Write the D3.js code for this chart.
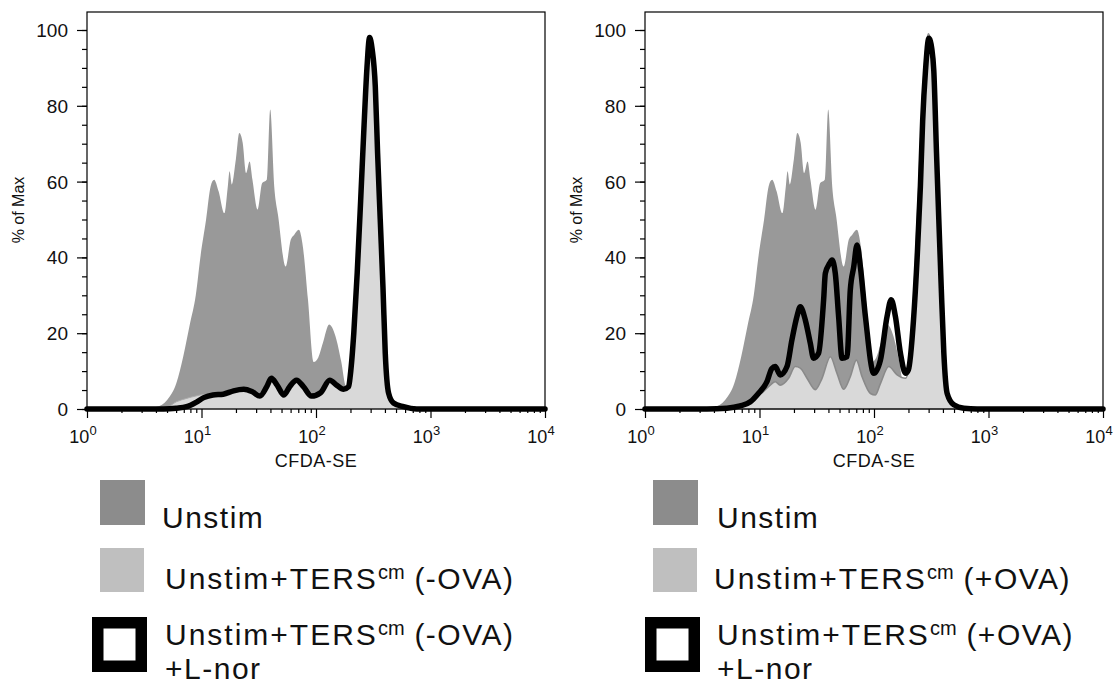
<!DOCTYPE html>
<html>
<head>
<meta charset="utf-8">
<script src="https://cdn.jsdelivr.net/npm/d3@7/dist/d3.min.js"></script>
<style>
  body { margin: 0; background: #fff; }
  svg { display: block; font-family: "Liberation Sans", Arial, sans-serif; }
</style>
</head>
<body>
<svg id="chart" width="1120" height="686"></svg>
<script>
// log10(CFDA-SE) positions and % of Max
const unstimExp = [0, 0.48, 0.55, 0.61, 0.7, 0.78, 0.84, 0.9, 0.95, 0.99, 1.04, 1.08, 1.11, 1.15, 1.2, 1.23, 1.245, 1.265, 1.3, 1.33, 1.36, 1.39, 1.42, 1.445, 1.49, 1.53, 1.57, 1.6, 1.635, 1.67, 1.735, 1.78, 1.81, 1.85, 1.885, 1.93, 1.98, 2.02, 2.06, 2.115, 2.17, 2.22, 2.26, 2.35, 2.5, 2.65, 2.75, 4]
const unstimPct = [0, 0, 0.3, 0.6, 2.4, 6.8, 13.8, 22.6, 30, 40, 50, 58.8, 60.5, 57.4, 51.7, 58.8, 62.7, 59.2, 65.8, 72.8, 70.2, 62.3, 65.3, 60.5, 52.6, 59.6, 60.5, 79, 58.8, 50.8, 37.6, 44.7, 46, 47.3, 42.9, 28.8, 12.4, 13.6, 17.4, 22.3, 19.2, 12.6, 6.0, 4, 2.5, 0.5, 0, 0]

const tersMinusExp = [0, 0.5, 0.7, 0.78, 0.87, 0.96, 1.02, 1.1, 1.19, 1.28, 1.37, 1.44, 1.51, 1.57, 1.61, 1.66, 1.72, 1.77, 1.83, 1.89, 1.96, 2.04, 2.12, 2.18, 2.24, 2.285, 2.3, 2.33, 2.36, 2.39, 2.42, 2.445, 2.468, 2.49, 2.518, 2.538, 2.561, 2.585, 2.605, 2.634, 2.677, 2.765, 2.88, 4]
const tersMinusPct = [0, 0, 0.5, 1.9, 2.8, 3.5, 3.8, 3.6, 3.8, 4.6, 5.0, 4.4, 3.2, 5.7, 7.9, 6.1, 3.5, 5.7, 7.4, 5.7, 3.2, 4.1, 7.4, 6.1, 5.0, 5.7, 9, 20, 36, 55, 75, 90, 97, 94, 84, 67, 49.5, 31.5, 14.5, 4, 1.4, 0.5, 0, 0]

const lnorMinusExp = [0, 0.67, 0.78, 0.87, 0.96, 1.02, 1.1, 1.19, 1.28, 1.37, 1.44, 1.51, 1.57, 1.61, 1.66, 1.72, 1.77, 1.83, 1.89, 1.96, 2.04, 2.12, 2.18, 2.24, 2.285, 2.3, 2.33, 2.36, 2.39, 2.42, 2.445, 2.468, 2.49, 2.518, 2.538, 2.561, 2.585, 2.605, 2.634, 2.677, 2.765, 2.88, 4]
const lnorMinusPct = [0, 0, 0.2, 0.6, 1.9, 3.0, 3.7, 3.9, 4.8, 5.2, 4.6, 3.4, 5.9, 8.1, 6.3, 3.7, 5.9, 7.6, 5.9, 3.4, 4.3, 7.6, 6.3, 5.2, 5.9, 9, 20, 36, 55, 75, 90, 98, 95, 85, 67.5, 50, 32, 14.7, 4.2, 1.6, 0.6, 0, 0]

const tersPlusExp = [0, 0.6, 0.685, 0.83, 0.95, 1.035, 1.094, 1.137, 1.181, 1.254, 1.312, 1.356, 1.415, 1.487, 1.546, 1.619, 1.677, 1.735, 1.793, 1.846, 1.896, 1.969, 2.012, 2.056, 2.129, 2.202, 2.275, 2.32, 2.36, 2.39, 2.42, 2.45, 2.475, 2.5, 2.525, 2.548, 2.568, 2.59, 2.612, 2.64, 2.7, 2.79, 2.9, 4]
const tersPlusPct = [0, 0, 0.2, 1.1, 2.8, 4.6, 6.3, 7.2, 6.3, 8.1, 11.2, 10.8, 8.1, 5.1, 8.1, 13.8, 9.4, 5.2, 8.5, 12.9, 8.5, 4.1, 3.7, 6.7, 11.2, 9.0, 8.1, 14, 38, 58, 80, 94, 99, 96, 87, 68, 50, 31, 13, 3.5, 1, 0.2, 0, 0]

const lnorPlusExp = [0, 0.54, 0.715, 0.83, 0.92, 0.99, 1.065, 1.108, 1.137, 1.181, 1.24, 1.283, 1.327, 1.356, 1.4, 1.444, 1.472, 1.516, 1.56, 1.575, 1.612, 1.633, 1.662, 1.691, 1.721, 1.765, 1.793, 1.823, 1.852, 1.881, 1.925, 1.998, 2.056, 2.114, 2.15, 2.187, 2.231, 2.275, 2.3, 2.345, 2.377, 2.405, 2.425, 2.45, 2.479, 2.505, 2.522, 2.546, 2.566, 2.587, 2.61, 2.639, 2.697, 2.785, 2.9, 4]
const lnorPlusPct = [0, 0, 0.2, 0.8, 1.9, 4.1, 7.2, 10.7, 11.2, 9.0, 11.2, 18.2, 24.4, 27, 23.5, 17.3, 13.4, 14.7, 28.8, 35.8, 38.4, 39.3, 35.8, 24.4, 13.4, 13.8, 31.4, 37.5, 43.3, 37.5, 24.4, 9.4, 12.9, 24.4, 28.8, 24.4, 14.7, 9.4, 10.3, 23.5, 40, 58.6, 76, 89.4, 97.8, 95, 89.4, 67.5, 50, 32.3, 14.7, 4.1, 1.1, 0.2, 0, 0]

const decadeTicks = [1, 10, 100, 1000, 10000]
const yTicks = [0, 20, 40, 60, 80, 100]
const legendLeft = ["Unstim", "(-OVA)", "(-OVA)"]
const legendRight = ["Unstim", "(+OVA)", "(+OVA)"]

const svg = d3.select("#chart")
const zip = (ex, pct) => ex.map((e, i) => ({ v: Math.pow(10, e), p: pct[i] }))

function drawPanel(x0, x1, light, line, lightStroke, lightStrokeW) {
  const x = d3.scaleLog().domain([1, 1e4]).range([x0, x1])
  const y = d3.scaleLinear().domain([0, 100]).range([409, 30])
  const g = svg.append("g")

  const area = d3.area().curve(d3.curveMonotoneX)
    .x(d => x(d.v)).y0(y(0)).y1(d => y(d.p))
  const path = d3.line().curve(d3.curveMonotoneX)
    .x(d => x(d.v)).y(d => y(d.p))

  g.append("path").attr("d", area(zip(unstimExp, unstimPct))).attr("fill", "#999999")
  g.append("path").attr("d", area(light)).attr("fill", "#d9d9d9")
    .attr("stroke", lightStroke).attr("stroke-width", lightStrokeW)

  g.append("rect").attr("x", x0).attr("y", 12).attr("width", x1 - x0).attr("height", 409 - 12)
    .attr("fill", "none").attr("stroke", "#000").attr("stroke-width", 1.2)

  g.append("path").attr("d", path(line)).attr("fill", "none").attr("stroke", "#000")
    .attr("stroke-width", 5.5).attr("stroke-linejoin", "round").attr("stroke-linecap", "round")

  // ticks
  const minorX = []
  decadeTicks.slice(0, 4).forEach(d => { for (let k = 2; k < 10; k++) minorX.push(d * k) })
  const clean = s => s.select(".domain").remove()
  g.append("g").attr("transform", "translate(0,409)")
    .call(d3.axisBottom(x).tickValues(minorX).tickSize(4).tickFormat("")).call(clean)
  g.append("g").attr("transform", "translate(0,409)")
    .call(d3.axisBottom(x).tickValues(decadeTicks).tickSize(9).tickFormat("")).call(clean)
  g.append("g").attr("transform", `translate(${x0},0)`)
    .call(d3.axisLeft(y).tickValues(d3.range(0, 101, 5)).tickSize(5).tickFormat("")).call(clean)
  g.append("g").attr("transform", `translate(${x0},0)`)
    .call(d3.axisLeft(y).tickValues(yTicks).tickSize(10).tickFormat("")).call(clean)
  g.selectAll(".tick line").attr("stroke", "#000").attr("stroke-width", 1.2)

  g.selectAll(".ylab").data(yTicks).join("text")
    .attr("x", x0 - 19).attr("y", d => y(d) + 7)
    .attr("text-anchor", "end").attr("font-size", 19).attr("fill", "#111")
    .text(d => d)

  decadeTicks.forEach((d, i) => {
    const t = g.append("text").attr("x", x(d) - 4).attr("y", 443)
      .attr("text-anchor", "middle").attr("font-size", 18).attr("fill", "#111")
    t.append("tspan").text("10")
    t.append("tspan").attr("font-size", 13).attr("dy", -8).text(i)
  })

  g.append("text").attr("x", (x0 + x1) / 2).attr("y", 467).attr("text-anchor", "middle")
    .attr("font-size", 18).attr("letter-spacing", 0.5).attr("fill", "#111").text("CFDA-SE")

  g.append("text").attr("transform", `translate(${x0 - 63},210) rotate(-90)`)
    .attr("text-anchor", "middle").attr("font-size", 16).attr("fill", "#111").text("% of Max")
}

drawPanel(87, 545, zip(tersMinusExp, tersMinusPct), zip(lnorMinusExp, lnorMinusPct), "#ababab", 1)
drawPanel(645, 1103, zip(tersPlusExp, tersPlusPct), zip(lnorPlusExp, lnorPlusPct), "#8a8a8a", 1.6)

function drawLegend(sq, tx, labels) {
  const g = svg.append("g").attr("font-size", 30).attr("letter-spacing", 2).attr("fill", "#111")
  g.append("rect").attr("x", sq).attr("y", 480).attr("width", 45).attr("height", 45).attr("fill", "#8c8c8c")
  g.append("rect").attr("x", sq).attr("y", 548).attr("width", 44).attr("height", 44).attr("fill", "#bfbfbf")
  g.append("rect").attr("x", sq - 2.25).attr("y", 622.75).attr("width", 43.5).attr("height", 43.5)
    .attr("fill", "#fff").attr("stroke", "#000").attr("stroke-width", 11.5)

  g.append("text").attr("x", tx[0]).attr("y", 528).attr("letter-spacing", 1.5).text(labels[0])
  ;[[tx[1], 589, labels[1]], [tx[2], 645, labels[2]]].forEach(([xx, yy, tag]) => {
    const t = g.append("text").attr("x", xx).attr("y", yy)
    t.append("tspan").text("Unstim+TERS")
    t.append("tspan").attr("font-size", 20).attr("dy", -10).attr("letter-spacing", 0).text("cm")
    t.append("tspan").attr("dy", 10).attr("letter-spacing", 1.5).text(" " + tag)
  })
  g.append("text").attr("x", tx[2]).attr("y", 679).attr("letter-spacing", 1.5).text("+L-nor")
}

drawLegend(100, [162, 165, 165], legendLeft)
drawLegend(653, [717, 714, 717], legendRight)
</script>
</body>
</html>
